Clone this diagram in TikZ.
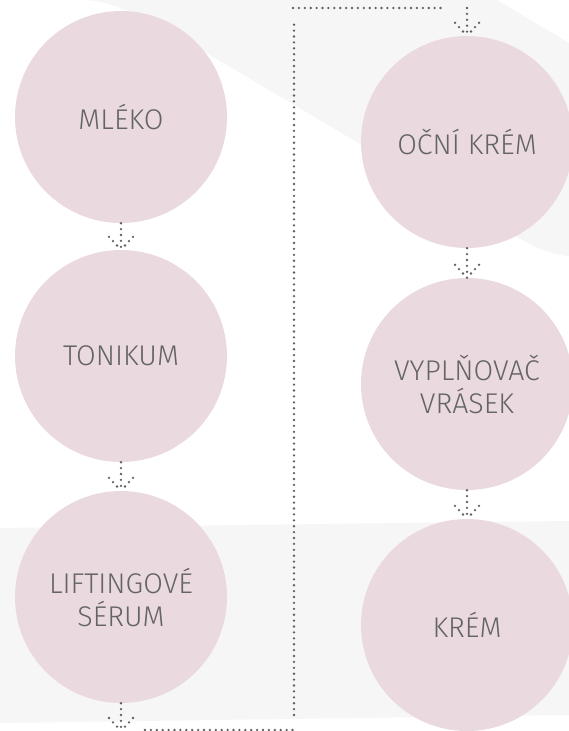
\documentclass[tikz,border=0pt]{standalone}
\usepackage{fontspec}
\setmainfont{Fira Sans Light}
\usetikzlibrary{calc}
\definecolor{bubblefill}{RGB}{234,218,223}
\definecolor{bandgray}{RGB}{246,246,246}
\definecolor{ink}{RGB}{100,100,100}
\definecolor{dotc}{RGB}{95,95,95}
\newcommand\dotarrow[2]{%
  \draw[dotline] (#1) -- (#2);
  \draw[dotline] ($(#2)+(-12,-13)$) -- (#2);
  \draw[dotline] ($(#2)+(12,-13)$) -- (#2);}
\begin{document}
\begin{tikzpicture}[x=1pt,y=-1pt,
  bubble/.style={circle,fill=bubblefill,minimum size=212pt,inner sep=0pt,align=center,text=ink,font=\fontsize{28.5}{33}\selectfont},
  dotline/.style={draw=dotc,line width=2.6pt,line cap=round,dash pattern=on 0pt off 5.9pt}]
\useasboundingbox (0,0) rectangle (569,731);
\fill[white] (0,0) rectangle (569,731);
% background bands
\fill[bandgray] (83,0) .. controls (105,0) and (130,8) .. (210,55) -- (517,237)
  .. controls (540,250) and (555,255) .. (569,256) -- (569,43) -- (497,0) -- cycle;
\fill[bandgray] (0,528) -- (569,521) -- (569,715) -- (0,723) -- cycle;
% bubbles
\node[bubble] (mleko) at (121,117) {MLÉKO};
\node[bubble] (tonikum) at (121,356) {TONIKUM};
\node[bubble] (serum) at (121,597) {LIFTINGOVÉ\\SÉRUM};
\node[bubble] (ocni) at (467,142) {OČNÍ KRÉM};
\node[bubble] (vypl) at (467,384) {VYPLŇOVAČ\\VRÁSEK};
\node[bubble] (krem) at (467,625) {KRÉM};
% connectors
\dotarrow{mleko.south}{tonikum.north}
\dotarrow{tonikum.south}{serum.north}
\dotarrow{ocni.south}{vypl.north}
\dotarrow{vypl.south}{krem.north}
% loop from serum to ocni
\coordinate (tipA) at (121,731);
\coordinate (botL) at (145,730);
\coordinate (botR) at (295,730);
\coordinate (vertB) at (294,715);
\coordinate (vertT) at (294,24);
\coordinate (topL) at (293,8);
\coordinate (topR) at (445,8);
\coordinate (startB) at (467,8);
\dotarrow{serum.south}{tipA}
\draw[dotline] (botL) -- (botR);
\draw[dotline] (vertB) -- (vertT);
\draw[dotline] (topL) -- (topR);
\dotarrow{startB}{ocni.north}
\end{tikzpicture}
\end{document}
